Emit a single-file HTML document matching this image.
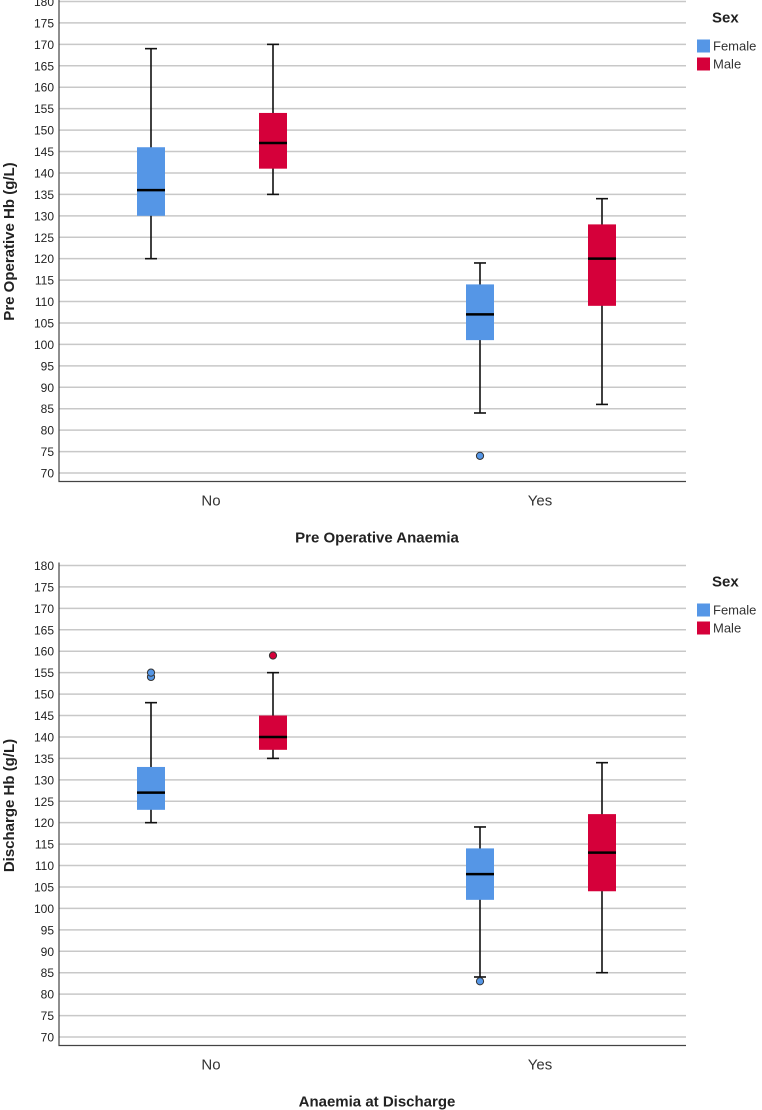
<!DOCTYPE html>
<html><head><meta charset="utf-8"><style>
html,body{margin:0;padding:0;background:#fff;}
svg{display:block;font-family:"Liberation Sans",Arial,sans-serif;}
</style></head><body>
<svg id="c" width="762" height="1110" viewBox="0 0 762 1110"></svg>
<script>
const categories = ["No","Yes"];
const groups = ["Female","Male"];
const groupColors = ["#5596e6","#d5003a"];
const ticks = [70,75,80,85,90,95,100,105,110,115,120,125,130,135,140,145,150,155,160,165,170,175,180];
// [min, q1, median, q3, max] per category per group
const preFemale = [[120,130,136,146,169],[84,101,107,114,119]];
const preMale = [[135,141,147,154,170],[86,109,120,128,134]];
const preFemaleOut = [[],[74]];
const preMaleOut = [[],[]];
const disFemale = [[120,123,127,133,148],[84,102,108,114,119]];
const disMale = [[135,137,140,145,155],[85,104,113,122,134]];
const disFemaleOut = [[154,155],[83]];
const disMaleOut = [[159],[]];

const svg = document.getElementById('c');
const NS = "http://www.w3.org/2000/svg";
function mk(tag, attrs, parent){
  const e = document.createElementNS(NS, tag);
  for (const k in attrs) e.setAttribute(k, attrs[k]);
  (parent||svg).appendChild(e);
  return e;
}
function chart(top, yTitle, xTitle, stats, outs, prefix){
  const g = mk('g', {});
  
  
  const left = 59, right = 686, y180 = top, y70 = top + 471.5, axisY = top + 480;
  const y = v => y70 - (v - 70) * (y70 - y180) / 110;
  const catX = i => 211 + i * 329;
  const offs = [-60, 62];
  ticks.forEach(t => {
    const l = mk('line', {x1:left, x2:right, y1:y(t), y2:y(t), stroke:'#c8c8c8', 'stroke-width':1.5}, g);
    
    
    const tx = mk('text', {x:54, y:y(t)+4.5, 'text-anchor':'end', 'font-size':12, fill:'#222'}, g);
    tx.textContent = t;
    
    
  });
  const ax = mk('path', {d:`M${left},${y180-3}V${axisY}H${right}`, fill:'none', stroke:'#444', 'stroke-width':1.2}, g);
  
  
  categories.forEach((c, i) => {
    const t = mk('text', {x:catX(i), y:axisY+24, 'text-anchor':'middle', 'font-size':15, fill:'#333'}, g);
    t.textContent = c;
    
    
    groups.forEach((gr, j) => {
      const s = stats[j][i], cx = catX(i) + offs[j], w = 28;
      const b = mk('g', {}, g);
      
      
      mk('line', {x1:cx, x2:cx, y1:y(s[0]), y2:y(s[4]), stroke:'#111', 'stroke-width':1.6}, b);
      mk('line', {x1:cx-6, x2:cx+6, y1:y(s[0]), y2:y(s[0]), stroke:'#111', 'stroke-width':1.6}, b);
      mk('line', {x1:cx-6, x2:cx+6, y1:y(s[4]), y2:y(s[4]), stroke:'#111', 'stroke-width':1.6}, b);
      mk('rect', {x:cx-w/2, y:y(s[3]), width:w, height:y(s[1])-y(s[3]), fill:groupColors[j]}, b);
      mk('line', {x1:cx-w/2, x2:cx+w/2, y1:y(s[2]), y2:y(s[2]), stroke:'#000', 'stroke-width':2.5}, b);
      outs[j][i].forEach(o => {
        const p = mk('circle', {cx:cx, cy:y(o), r:3.6, fill:groupColors[j], stroke:'#333', 'stroke-width':1}, g);
        
        
      });
    });
  });
  const yt = mk('text', {x:0, y:0, transform:`translate(14,${(y180+axisY)/2}) rotate(-90)`, 'text-anchor':'middle', 'font-size':15, 'font-weight':'bold', fill:'#222'}, g);
  yt.textContent = yTitle;
  
  
  const xt = mk('text', {x:377, y:axisY+61, 'text-anchor':'middle', 'font-size':15, 'font-weight':'bold', fill:'#222'}, g);
  xt.textContent = xTitle;
  
  
  const lt = mk('text', {x:712, y:top+21, 'font-size':15, 'font-weight':'bold', fill:'#222'}, g);
  lt.textContent = 'Sex';
  
  
  groups.forEach((gr, j) => {
    const ly = top + 38 + j * 18;
    const le = mk('g', {}, g);
    
    
    mk('rect', {x:697, y:ly, width:13, height:13, fill:groupColors[j]}, le);
    const t = mk('text', {x:713, y:ly+11, 'font-size':13, fill:'#333'}, le);
    t.textContent = gr;
  });
}
chart(1.5, 'Pre Operative Hb (g/L)', 'Pre Operative Anaemia', [preFemale, preMale], [preFemaleOut, preMaleOut], 'pre-op');
chart(565.5, 'Discharge Hb (g/L)', 'Anaemia at Discharge', [disFemale, disMale], [disFemaleOut, disMaleOut], 'discharge');
</script>
</body></html>
